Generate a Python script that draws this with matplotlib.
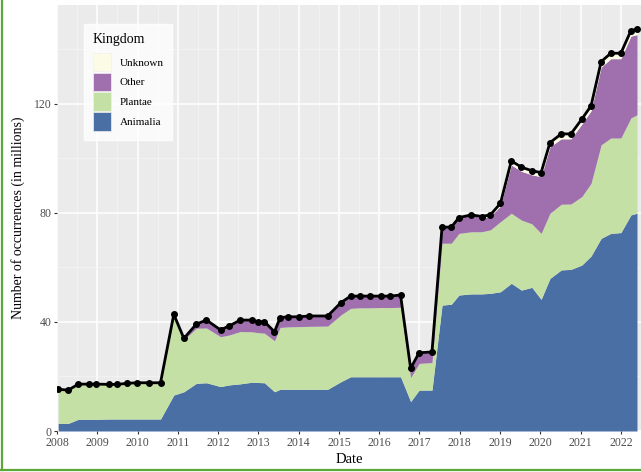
import matplotlib.pyplot as plt
import numpy as np
from matplotlib.patches import Patch
from matplotlib.lines import Line2D

plt.rcParams['font.family'] = ['Liberation Serif', 'DejaVu Serif']

# snapshot dates (decimal years) and occurrences per kingdom, in millions
dates = [2008.03, 2008.28, 2008.53, 2008.80, 2008.98, 2009.29, 2009.49, 2009.75,
         2009.99, 2010.28, 2010.57, 2010.90, 2011.15, 2011.46, 2011.71, 2012.06,
         2012.27, 2012.55, 2012.84, 2012.98, 2013.15, 2013.40, 2013.54, 2013.73,
         2014.00, 2014.26, 2014.72, 2015.05, 2015.29, 2015.52, 2015.76, 2016.04,
         2016.28, 2016.53, 2016.78, 2016.99, 2017.31, 2017.56, 2017.79, 2017.98,
         2018.29, 2018.54, 2018.76, 2019.01, 2019.28, 2019.53, 2019.79, 2020.02,
         2020.24, 2020.52, 2020.76, 2021.03, 2021.26, 2021.51, 2021.75, 2022.00,
         2022.25, 2022.40]
animalia = [2.8, 2.8, 4.3, 4.3, 4.3, 4.4, 4.4, 4.4, 4.4, 4.4, 4.4, 13.2, 14.4, 17.5,
            17.7, 16.3, 16.9, 17.3, 17.9, 17.8, 17.7, 14.4, 15.3, 15.3, 15.3, 15.3,
            15.3, 18.1, 19.9, 19.9, 19.9, 19.9, 19.9, 19.9, 10.8, 15.0, 15.0, 46.2,
            46.5, 49.9, 50.3, 50.3, 50.5, 51.1, 54.2, 51.7, 52.7, 48.3, 56.0, 59.1,
            59.3, 60.9, 64.2, 70.7, 72.5, 72.8, 79.3, 79.9]
plantae = [12.5, 12.2, 12.9, 12.9, 12.9, 12.7, 12.7, 13.1, 13.3, 13.3, 13.3, 29.3,
           19.1, 20.2, 20.1, 18.3, 18.3, 19.2, 18.5, 18.3, 18.2, 18.7, 22.7, 22.9,
           23.0, 23.1, 23.2, 24.5, 25.1, 25.3, 25.3, 25.4, 25.4, 25.5, 8.8, 9.8,
           10.1, 22.7, 22.4, 22.6, 22.8, 22.8, 23.3, 25.7, 25.7, 25.7, 23.3, 24.2,
           23.9, 24.1, 24.0, 25.1, 26.7, 34.3, 35.0, 34.7, 35.6, 36.1]
other = [0, 0, 0, 0, 0, 0, 0, 0, 0, 0, 0, 0.3, 0.5, 1.5, 2.9, 2.5, 3.3, 4.2, 4.3,
         4.0, 4.2, 3.3, 3.6, 3.7, 3.6, 3.8, 3.7, 4.5, 4.5, 4.3, 4.3, 4.2, 4.2, 4.5,
         3.4, 3.9, 3.9, 5.9, 5.9, 5.8, 6.2, 5.1, 5.0, 5.7, 17.7, 17.9, 18.0, 20.8,
         24.4, 24.0, 23.9, 26.6, 26.6, 28.5, 29.1, 29.1, 30.0, 29.4]
unknown = [0] * 41 + [0.5, 0.5, 1.0, 1.5, 1.5, 1.5, 1.5, 1.5, 1.8, 1.8, 1.8, 1.8,
                      2.0, 2.0, 2.0, 2.0, 2.0]

kingdoms = ['Animalia', 'Plantae', 'Other', 'Unknown']
colors = ['#4A6FA5', '#C5E0A5', '#A070AE', '#FBFBE6']

x = np.array(dates)
layers = np.array([animalia, plantae, other, unknown])
tops = np.cumsum(layers, axis=0)
total = tops[-1]

fig = plt.figure(figsize=(6.41, 4.72), dpi=100)
ax = fig.add_axes([57 / 641, 41 / 472, 584 / 641, 426 / 472])
ax.set_facecolor('#EBEBEB')

bottom = np.zeros_like(x)
for top, c in zip(tops, colors):
    ax.fill_between(x, bottom, top, color=c, lw=0)
    bottom = top
ax.plot(x, total, color='black', lw=2, marker='o', ms=4, zorder=5)

ax.set_xlim(2008, 2022.46)
ax.set_ylim(0, 156.3)
ax.set_xticks(range(2008, 2023))
ax.set_xticks(np.arange(2008.5, 2022.6, 1), minor=True)
ax.set_yticks([0, 40, 80, 120])
ax.set_yticks([20, 60, 100, 140], minor=True)
ax.grid(which='major', color='white', lw=1.1)
ax.grid(which='minor', color='#F5F5F5', lw=0.55)
ax.set_axisbelow(True)
for s in ax.spines.values():
    s.set_visible(False)
ax.tick_params(which='major', length=2.5, width=0.8, color='#333333',
               labelsize=8.5, labelcolor='#4D4D4D', pad=1.5)
ax.tick_params(which='minor', length=0)

ax.set_xlabel('Date', fontsize=10.5, labelpad=3)
ax.set_ylabel('Number of occurrences (in millions)', fontsize=10, labelpad=6)

handles = [Patch(facecolor=c, edgecolor='#F0F0F0', lw=0.5) for c in colors][::-1]
leg = ax.legend(handles, kingdoms[::-1], title='Kingdom', loc='upper left',
                bbox_to_anchor=(84 / 641, 1 - 24 / 472), bbox_transform=fig.transFigure,
                borderaxespad=0, fontsize=8, title_fontsize=10,
                handlelength=1.6, handleheight=2.2, labelspacing=0.1,
                handletextpad=0.8, borderpad=0.8, frameon=True, fancybox=False)
leg.get_frame().set_facecolor('white')
leg.get_frame().set_edgecolor('white')
leg._legend_box.align = 'left'
leg._legend_box.sep = 5

# green screenshot border on the left and bottom
fig.add_artist(Line2D([1.5 / 641, 1.5 / 641], [2 / 472, 1], color='#5BA839', lw=1.6))
fig.add_artist(Line2D([0, 1], [2 / 472, 2 / 472], color='#5BA839', lw=1.6))

fig.savefig('out.png', dpi=100)
